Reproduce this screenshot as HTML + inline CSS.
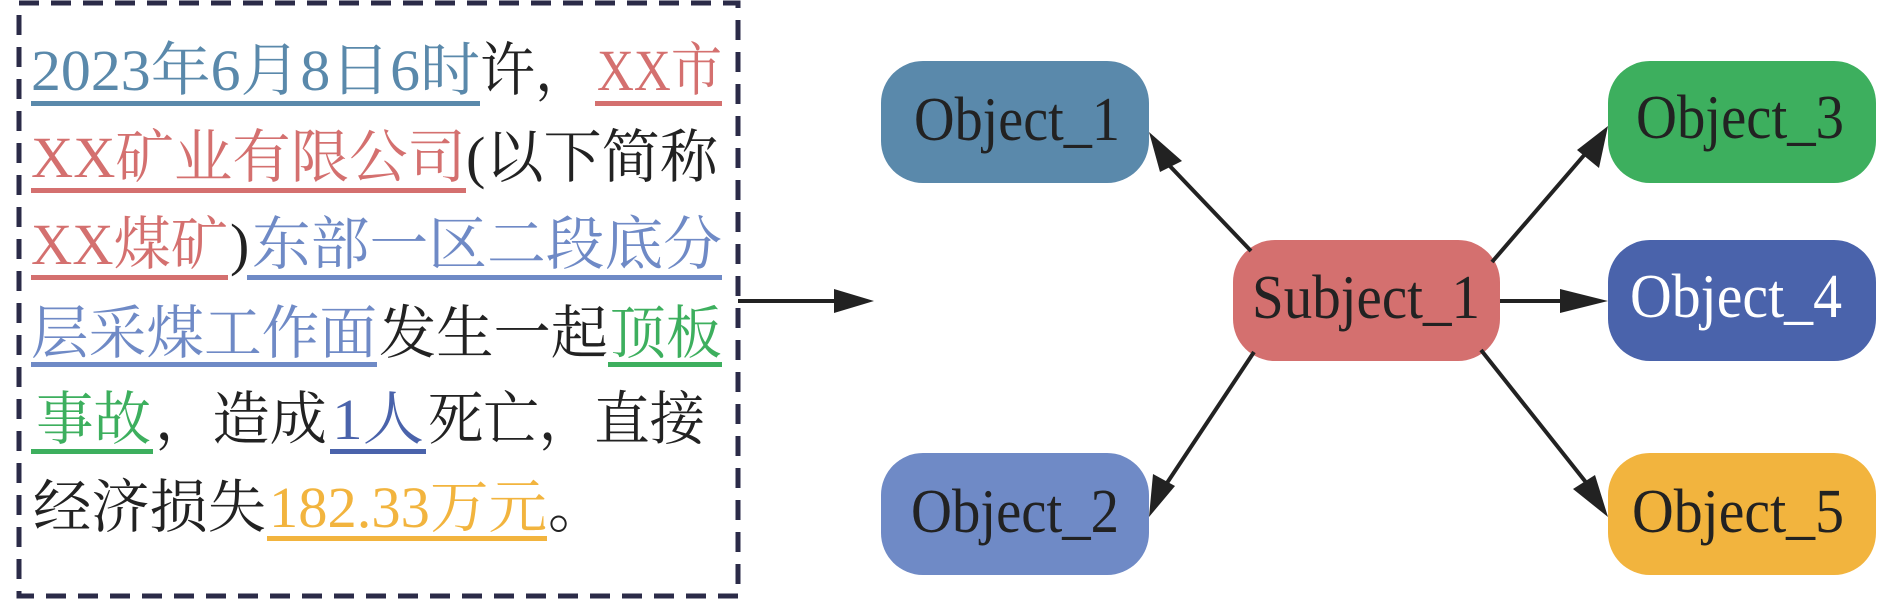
<!DOCTYPE html>
<html><head><meta charset="utf-8"><style>
html,body{margin:0;padding:0;background:#fff;width:1890px;height:601px;overflow:hidden}
svg{display:block}
</style></head><body>
<svg width="1890" height="601" viewBox="0 0 1890 601" xmlns="http://www.w3.org/2000/svg">
<rect x="19" y="3" width="719" height="593" fill="none" stroke="#2b2b48" stroke-width="5" stroke-dasharray="20 12"/>

<g font-family="'Liberation Serif','Noto Serif CJK SC','DejaVu Serif',serif" font-size="58">
<!-- line1 -->
<text x="31" y="90" fill="#5a89ab" textLength="449" lengthAdjust="spacingAndGlyphs">2023年6月8日6时</text>
<text x="480" y="90" fill="#222" textLength="110" lengthAdjust="spacingAndGlyphs">许，</text>
<text x="597" y="90" fill="#d4706f" textLength="125" lengthAdjust="spacingAndGlyphs">XX市</text>
<rect x="31" y="101" width="449" height="5" fill="#5a89ab"/>
<rect x="595" y="101" width="127" height="5" fill="#d4706f"/>
<!-- line2 -->
<text x="31" y="177" fill="#d4706f" textLength="435" lengthAdjust="spacingAndGlyphs">XX矿业有限公司</text>
<text x="466" y="177" fill="#222" textLength="252" lengthAdjust="spacingAndGlyphs">(以下简称</text>
<rect x="31" y="188" width="435" height="5" fill="#d4706f"/>
<!-- line3 -->
<text x="31" y="264" fill="#d4706f" textLength="197" lengthAdjust="spacingAndGlyphs">XX煤矿</text>
<text x="230" y="264" fill="#222">)</text>
<text x="252" y="264" fill="#6f8ac6" textLength="470" lengthAdjust="spacingAndGlyphs">东部一区二段底分</text>
<rect x="31" y="275" width="197" height="5" fill="#d4706f"/>
<rect x="247" y="275" width="475" height="5" fill="#6f8ac6"/>
<!-- line4 -->
<text x="31" y="353" fill="#6f8ac6" textLength="346" lengthAdjust="spacingAndGlyphs">层采煤工作面</text>
<text x="379" y="353" fill="#222" textLength="229" lengthAdjust="spacingAndGlyphs">发生一起</text>
<text x="610" y="353" fill="#3daf5e" textLength="112" lengthAdjust="spacingAndGlyphs">顶板</text>
<rect x="31" y="362" width="346" height="5" fill="#6f8ac6"/>
<rect x="608" y="362" width="114" height="5" fill="#3daf5e"/>
<!-- line5 -->
<text x="36" y="439" fill="#3daf5e" textLength="115" lengthAdjust="spacingAndGlyphs">事故</text>
<text x="155" y="439" fill="#222" textLength="172" lengthAdjust="spacingAndGlyphs">，造成</text>
<text x="332" y="439" fill="#4a63ab" textLength="92" lengthAdjust="spacingAndGlyphs">1人</text>
<text x="428" y="439" fill="#222" textLength="277" lengthAdjust="spacingAndGlyphs">死亡，直接</text>
<rect x="31" y="449" width="122" height="5" fill="#3daf5e"/>
<rect x="330" y="449" width="96" height="5" fill="#4a63ab"/>
<!-- line6 -->
<text x="33" y="527" fill="#222" textLength="233" lengthAdjust="spacingAndGlyphs">经济损失</text>
<text x="269" y="527" fill="#f2b43e" textLength="278" lengthAdjust="spacingAndGlyphs">182.33万元</text>
<text x="548" y="527" fill="#222">。</text>
<rect x="267" y="536" width="280" height="5" fill="#f2b43e"/>
</g>

<!-- big arrow -->
<line x1="738" y1="301" x2="840" y2="301" stroke="#222" stroke-width="4"/>
<polygon points="874,301 834,289 834,313" fill="#222"/>

<!-- nodes -->
<rect x="881" y="61" width="268" height="122" rx="42" fill="#5a89ab"/>
<rect x="881" y="453" width="268" height="122" rx="42" fill="#6f8ac6"/>
<rect x="1233" y="240" width="267" height="121" rx="42" fill="#d4706f"/>
<rect x="1608" y="61" width="268" height="122" rx="42" fill="#3daf5e"/>
<rect x="1608" y="240" width="268" height="121" rx="42" fill="#4a63ab"/>
<rect x="1608" y="453" width="268" height="122" rx="42" fill="#f2b43e"/>
<g font-family="'Liberation Serif','DejaVu Serif',serif" font-size="62" text-anchor="middle">
<text x="1017" y="140" fill="#222" textLength="206" lengthAdjust="spacingAndGlyphs">Object_1</text>
<text x="1015" y="532" fill="#222" textLength="208" lengthAdjust="spacingAndGlyphs">Object_2</text>
<text x="1366" y="318" fill="#222" textLength="228" lengthAdjust="spacingAndGlyphs">Subject_1</text>
<text x="1740" y="138" fill="#222" textLength="208" lengthAdjust="spacingAndGlyphs">Object_3</text>
<text x="1736" y="317" fill="#fff" textLength="212" lengthAdjust="spacingAndGlyphs">Object_4</text>
<text x="1738" y="532" fill="#222" textLength="212" lengthAdjust="spacingAndGlyphs">Object_5</text>
</g>

<!-- connectors -->
<g stroke="#222" stroke-width="4">
<line x1="1251" y1="251" x2="1166" y2="162"/>
<line x1="1492" y1="262" x2="1592" y2="146"/>
<line x1="1500" y1="301" x2="1585" y2="301"/>
<line x1="1254" y1="352" x2="1159" y2="495"/>
<line x1="1481" y1="350" x2="1596" y2="495"/>
</g>
<g fill="#222">
<polygon points="1149,132 1182,161 1160,172"/>
<polygon points="1608,126 1599,168 1577,150"/>
<polygon points="1608,301 1560,289 1560,313"/>
<polygon points="1149,517 1153,474 1175,486"/>
<polygon points="1608,517 1573,489 1595,475"/>
</g>
</svg>
</body></html>
